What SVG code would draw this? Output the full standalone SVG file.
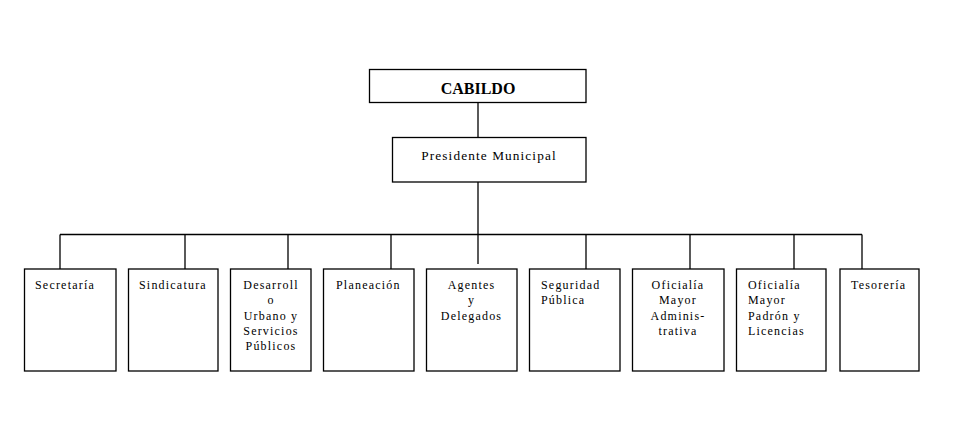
<svg xmlns="http://www.w3.org/2000/svg" width="959" height="439" viewBox="0 0 959 439">
<style>
.box{fill:#fff;stroke:#000;stroke-width:1.3}
.ln{stroke:#000;stroke-width:1.3;fill:none}
text{font-family:"Liberation Serif","Times New Roman",serif;font-size:12px;fill:#000;letter-spacing:1.2px}
.c{text-anchor:middle}
.title{font-size:16px;font-weight:bold;letter-spacing:0}
.pres{font-size:13.3px;letter-spacing:1.1px}
</style>
<rect width="959" height="439" fill="#fff"/>
<g id="connectors">
<line class="ln" x1="478" y1="103" x2="478" y2="137"/>
<line class="ln" x1="478" y1="182" x2="478" y2="264"/>
<line class="ln" x1="60" y1="234.5" x2="862" y2="234.5"/>
<line class="ln" x1="60" y1="234.5" x2="60" y2="269"/>
<line class="ln" x1="185" y1="234.5" x2="185" y2="269"/>
<line class="ln" x1="288" y1="234.5" x2="288" y2="269"/>
<line class="ln" x1="391" y1="234.5" x2="391" y2="269"/>
<line class="ln" x1="586" y1="234.5" x2="586" y2="269"/>
<line class="ln" x1="690" y1="234.5" x2="690" y2="269"/>
<line class="ln" x1="794" y1="234.5" x2="794" y2="269"/>
<line class="ln" x1="862" y1="234.5" x2="862" y2="269"/>
</g>
<g id="cabildo">
<rect class="box" x="369.5" y="69.5" width="216.5" height="33"/>
<text class="title c" x="478" y="94">CABILDO</text>
</g>
<g id="presidente">
<rect class="box" x="392.5" y="137.5" width="193.5" height="44.5"/>
<text class="pres c" x="489" y="160">Presidente Municipal</text>
</g>
<g id="secretaria">
<rect class="box" x="24.5" y="269" width="91.5" height="102"/>
<text x="35" y="289">Secretaría</text>
</g>
<g id="sindicatura">
<rect class="box" x="128.5" y="269" width="89.5" height="102"/>
<text x="139" y="289">Sindicatura</text>
</g>
<g id="desarrollo">
<rect class="box" x="230.5" y="269" width="80.5" height="102"/>
<text class="c" x="271" y="289">Desarroll</text>
<text class="c" x="271" y="304">o</text>
<text class="c" x="271" y="319.5">Urbano y</text>
<text class="c" x="271" y="335">Servicios</text>
<text class="c" x="271" y="350">Públicos</text>
</g>
<g id="planeacion">
<rect class="box" x="323.5" y="269" width="90.5" height="102"/>
<text x="336" y="289">Planeación</text>
</g>
<g id="agentes">
<rect class="box" x="426.5" y="269" width="90.5" height="102"/>
<text class="c" x="471.5" y="289">Agentes</text>
<text class="c" x="471.5" y="304">y</text>
<text class="c" x="471.5" y="319.5">Delegados</text>
</g>
<g id="seguridad">
<rect class="box" x="529.5" y="269" width="90.5" height="102"/>
<text x="541" y="289">Seguridad</text>
<text x="541" y="304">Pública</text>
</g>
<g id="oficialia-admin">
<rect class="box" x="632.5" y="269" width="91.5" height="102"/>
<text class="c" x="678" y="289">Oficialía</text>
<text class="c" x="678" y="304">Mayor</text>
<text class="c" x="678" y="319.5">Adminis-</text>
<text class="c" x="678" y="335">trativa</text>
</g>
<g id="oficialia-padron">
<rect class="box" x="736.5" y="269" width="89.5" height="102"/>
<text x="748" y="289">Oficialía</text>
<text x="748" y="304">Mayor</text>
<text x="748" y="319.5">Padrón y</text>
<text x="748" y="335">Licencias</text>
</g>
<g id="tesoreria">
<rect class="box" x="840" y="269" width="79" height="102"/>
<text x="851" y="289">Tesorería</text>
</g>
</svg>
